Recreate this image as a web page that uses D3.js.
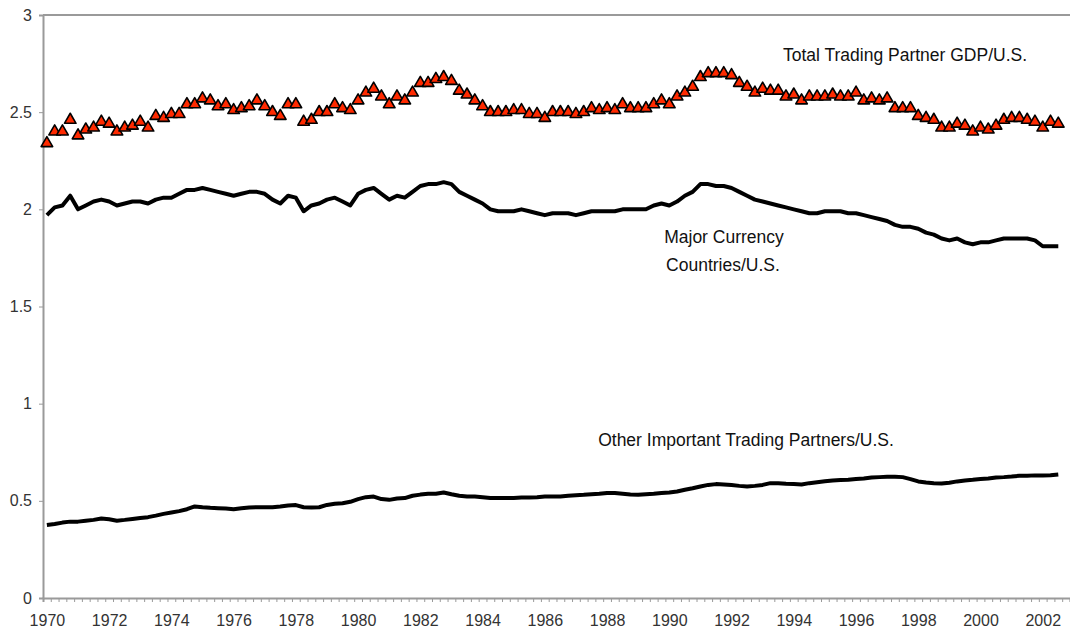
<!DOCTYPE html>
<html>
<head>
<meta charset="utf-8">
<script src="https://cdn.jsdelivr.net/npm/d3@7"></script>
<style>
  body { margin: 0; background: #fff; }
  svg text { font-family: "Liberation Sans", Arial, sans-serif; }
</style>
</head>
<body>
<script>
// quarterly ratios, 1970Q1 .. 2002Q3
const totalPartner = [
  2.34, 2.40, 2.40, 2.46, 2.38, 2.41, 2.42, 2.45, 2.44, 2.40, 2.42, 2.43, 2.45, 2.42, 2.48, 2.47,
  2.49, 2.49, 2.54, 2.54, 2.57, 2.56, 2.53, 2.54, 2.51, 2.52, 2.53, 2.56, 2.53, 2.50, 2.48, 2.54,
  2.54, 2.45, 2.46, 2.50, 2.50, 2.54, 2.52, 2.51, 2.56, 2.60, 2.62, 2.58, 2.54, 2.58, 2.56, 2.60,
  2.65, 2.65, 2.67, 2.68, 2.66, 2.61, 2.59, 2.56, 2.53, 2.50, 2.50, 2.50, 2.51, 2.51, 2.49, 2.49,
  2.47, 2.50, 2.50, 2.50, 2.49, 2.50, 2.52, 2.51, 2.52, 2.51, 2.54, 2.52, 2.52, 2.52, 2.54, 2.56,
  2.54, 2.58, 2.60, 2.63, 2.68, 2.70, 2.70, 2.70, 2.69, 2.65, 2.63, 2.60, 2.62, 2.61, 2.61, 2.58,
  2.59, 2.56, 2.58, 2.58, 2.58, 2.59, 2.58, 2.58, 2.60, 2.56, 2.57, 2.56, 2.57, 2.52, 2.52, 2.52,
  2.48, 2.47, 2.46, 2.42, 2.42, 2.44, 2.43, 2.40, 2.42, 2.41, 2.43, 2.46, 2.47, 2.47, 2.46, 2.45,
  2.42, 2.45, 2.44
];
const majorCurrency = [
  1.97, 2.01, 2.02, 2.07, 2.00, 2.02, 2.04, 2.05, 2.04, 2.02, 2.03, 2.04, 2.04, 2.03, 2.05, 2.06,
  2.06, 2.08, 2.10, 2.10, 2.11, 2.10, 2.09, 2.08, 2.07, 2.08, 2.09, 2.09, 2.08, 2.05, 2.03, 2.07,
  2.06, 1.99, 2.02, 2.03, 2.05, 2.06, 2.04, 2.02, 2.08, 2.10, 2.11, 2.08, 2.05, 2.07, 2.06, 2.09,
  2.12, 2.13, 2.13, 2.14, 2.13, 2.09, 2.07, 2.05, 2.03, 2.00, 1.99, 1.99, 1.99, 2.00, 1.99, 1.98,
  1.97, 1.98, 1.98, 1.98, 1.97, 1.98, 1.99, 1.99, 1.99, 1.99, 2.00, 2.00, 2.00, 2.00, 2.02, 2.03,
  2.02, 2.04, 2.07, 2.09, 2.13, 2.13, 2.12, 2.12, 2.11, 2.09, 2.07, 2.05, 2.04, 2.03, 2.02, 2.01,
  2.00, 1.99, 1.98, 1.98, 1.99, 1.99, 1.99, 1.98, 1.98, 1.97, 1.96, 1.95, 1.94, 1.92, 1.91, 1.91,
  1.90, 1.88, 1.87, 1.85, 1.84, 1.85, 1.83, 1.82, 1.83, 1.83, 1.84, 1.85, 1.85, 1.85, 1.85, 1.84,
  1.81, 1.81, 1.81
];
const otherPartners = [
  0.376, 0.381, 0.388, 0.393, 0.393, 0.398, 0.402, 0.409, 0.405, 0.398, 0.402, 0.407, 0.412, 0.416, 0.424, 0.433,
  0.440, 0.447, 0.457, 0.471, 0.467, 0.464, 0.462, 0.460, 0.457, 0.462, 0.466, 0.467, 0.467, 0.467, 0.471, 0.476,
  0.478, 0.467, 0.466, 0.467, 0.479, 0.485, 0.488, 0.495, 0.509, 0.519, 0.522, 0.509, 0.505, 0.512, 0.514, 0.526,
  0.532, 0.536, 0.536, 0.543, 0.534, 0.526, 0.522, 0.522, 0.519, 0.515, 0.515, 0.515, 0.515, 0.517, 0.517, 0.519,
  0.522, 0.522, 0.522, 0.526, 0.529, 0.531, 0.534, 0.536, 0.540, 0.540, 0.536, 0.532, 0.531, 0.534, 0.536, 0.540,
  0.543, 0.548, 0.557, 0.565, 0.574, 0.582, 0.586, 0.584, 0.581, 0.577, 0.574, 0.577, 0.582, 0.591, 0.591, 0.588,
  0.586, 0.584, 0.591, 0.596, 0.601, 0.605, 0.607, 0.608, 0.612, 0.615, 0.620, 0.622, 0.624, 0.624, 0.622, 0.612,
  0.600, 0.594, 0.591, 0.589, 0.593, 0.600, 0.605, 0.608, 0.612, 0.615, 0.620, 0.622, 0.625, 0.629, 0.629, 0.631,
  0.631, 0.632, 0.636
];
const yearLabels = ["1970", "1972", "1974", "1976", "1978", "1980", "1982", "1984", "1986", "1988",
  "1990", "1992", "1994", "1996", "1998", "2000", "2002"];
const yTicks = [0, 0.5, 1, 1.5, 2, 2.5, 3];
const nCategories = 132; // axis runs one quarter past the last observation

const width = 1070, height = 633;
const plotLeft = 43, plotRight = 1070, plotTop = 15, plotBottom = 598;

const svg = d3.select("body")
  .append("svg")
  .attr("width", width)
  .attr("height", height);

const x = d3.scaleLinear()
  .domain([0, nCategories])
  .range([plotLeft, plotLeft + nCategories * 7.78]);
const xc = i => x(i + 0.5);

const y = d3.scaleLinear()
  .domain([0, 3])
  .range([plotBottom, plotTop]);

// top border of the plot area
svg.append("line")
  .attr("x1", plotLeft).attr("x2", plotRight)
  .attr("y1", plotTop).attr("y2", plotTop)
  .attr("stroke", "#9a9a9a")
  .attr("stroke-width", 2);

// y axis
const yAxis = svg.append("g")
  .attr("transform", `translate(${plotLeft},0)`)
  .call(d3.axisLeft(y).tickValues(yTicks).tickSize(4).tickPadding(7).tickFormat(d => String(d)));
yAxis.select(".domain").attr("stroke", "#9a9a9a").attr("stroke-width", 2);
yAxis.selectAll(".tick line").attr("stroke", "#9a9a9a");
yAxis.selectAll("text").attr("font-size", 16).attr("fill", "#333");

// x axis: minor ticks at quarter boundaries
const xAxis = svg.append("g")
  .attr("transform", `translate(0,${plotBottom})`)
  .call(d3.axisBottom(x).tickValues(d3.range(0, nCategories + 1)).tickSize(4).tickFormat(""));
xAxis.select(".domain").attr("stroke", "#9a9a9a").attr("stroke-width", 2);
xAxis.selectAll(".tick line").attr("stroke", "#9a9a9a");

// year labels centred on their first quarter
const labelScale = d3.scalePoint()
  .domain(yearLabels)
  .range([xc(0), xc((yearLabels.length - 1) * 8)]);
const xLabels = svg.append("g")
  .attr("transform", `translate(0,${plotBottom})`)
  .call(d3.axisBottom(labelScale).tickSize(0).tickPadding(17));
xLabels.select(".domain").remove();
xLabels.selectAll("text").attr("font-size", 16).attr("fill", "#333");

const line = d3.line()
  .x((d, i) => xc(i))
  .y(d => y(d));

svg.append("path")
  .datum(otherPartners)
  .attr("d", line)
  .attr("fill", "none")
  .attr("stroke", "#000")
  .attr("stroke-width", 4)
  .attr("stroke-linejoin", "round");

svg.append("path")
  .datum(majorCurrency)
  .attr("d", line)
  .attr("fill", "none")
  .attr("stroke", "#000")
  .attr("stroke-width", 4)
  .attr("stroke-linejoin", "round");

const tri = d3.symbol().type(d3.symbolTriangle).size(58);
svg.append("g")
  .selectAll("path")
  .data(totalPartner)
  .enter()
  .append("path")
  .attr("d", tri)
  .attr("transform", (d, i) => `translate(${xc(i)},${y(d)})`)
  .attr("fill", "#ff2a00")
  .attr("stroke", "#000")
  .attr("stroke-width", 1.6)
  .attr("stroke-linejoin", "round");

// series labels
const labels = [
  { lines: ["Total Trading Partner GDP/U.S."], x: 905, y: 61 },
  { lines: ["Major Currency", "Countries/U.S."], x: 724, y: 243 },
  { lines: ["Other Important Trading Partners/U.S."], x: 746, y: 446 }
];
labels.forEach(l => {
  const t = svg.append("text")
    .attr("text-anchor", "middle")
    .attr("font-size", 17.5)
    .attr("fill", "#111");
  l.lines.forEach((s, k) => {
    t.append("tspan")
      .attr("x", k === 0 ? l.x : l.x - 1)
      .attr("y", l.y + k * 28)
      .text(s);
  });
});
</script>
</body>
</html>
